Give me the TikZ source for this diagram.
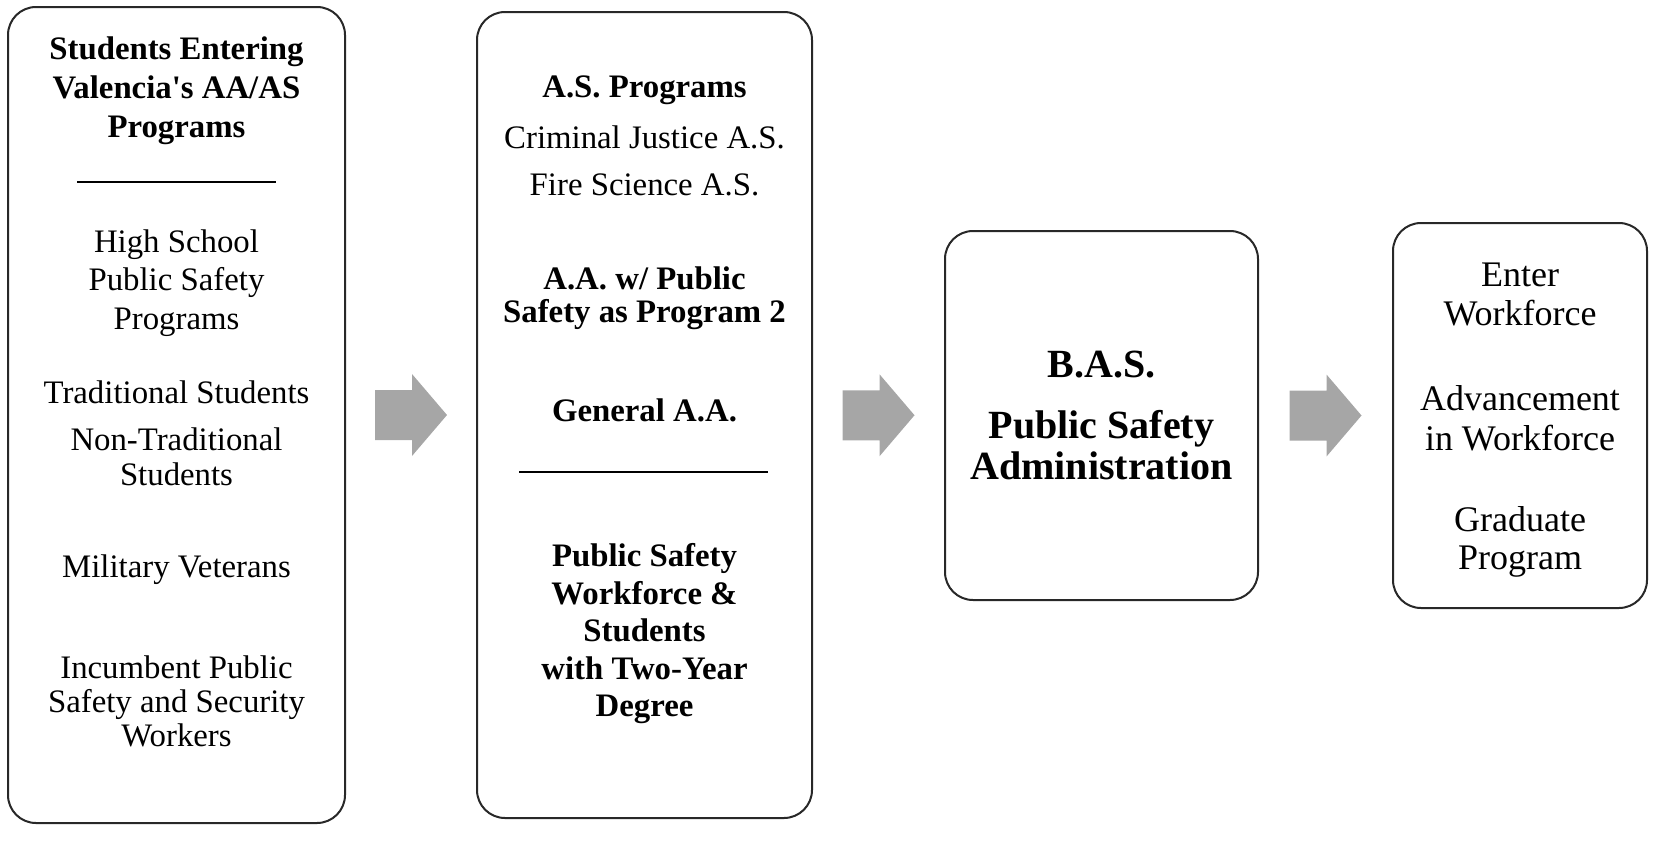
\documentclass[tikz,border=0pt]{standalone}
\usepackage{fontspec}
\setmainfont{Liberation Serif}
\usetikzlibrary{calc, positioning}
\definecolor{BoxLine}{RGB}{40, 40, 40}
\definecolor{FlowGray}{RGB}{166, 166, 166}

\begin{document}
\begin{tikzpicture}[x=0.5pt, y=-0.5pt,
    box/.style={draw=BoxLine, line width=1pt, rounded corners=14pt, inner sep=0pt},
    txt/.style={align=center, inner sep=0pt, font=\fontsize{16.4}{19}\selectfont},
    txtb/.style={txt, font=\fontsize{16.4}{19}\selectfont\bfseries},
    flowarrow/.style={fill=FlowGray}]
        \useasboundingbox (0,0) rectangle (1676,857);

        % --- BOXES ---
        \node[box, minimum width=168.5pt, minimum height=408pt] (entry) at (176.5, 415) {};
        \node[box, minimum width=167.5pt, minimum height=403pt] (prog) at (644.5, 415) {};
        \node[box, minimum width=156.5pt, minimum height=184.5pt] (bas) at (1101.5, 415.5) {};
        \node[box, minimum width=127pt, minimum height=192.5pt] (career) at (1520, 415.5) {};

        % --- ENTRY BOX ---
        \node[txtb, font=\fontsize{16.4}{19.5}\selectfont\bfseries] (entryhead) at (176.5, 91) {Students Entering\\Valencia\textquotesingle s AA/AS\\Programs};
        \draw[line width=0.8pt] (77, 182) -- (276, 182);
        \node[txt, font=\fontsize{16.4}{19.2}\selectfont] (hsprog) at (176.5, 283) {High School\\Public Safety\\Programs};
        \node[txt] (tradstud) at (176.5, 392) {Traditional Students};
        \node[txt, font=\fontsize{16.4}{17.5}\selectfont] (nontrad) at (176.5, 457) {Non-Traditional\\Students};
        \node[txt] (military) at (176.5, 570) {Military Veterans};
        \node[txt, font=\fontsize{16.4}{17}\selectfont] (incumbent) at (176.5, 701) {Incumbent Public\\Safety and Security\\Workers};

        % --- PROGRAM BOX ---
        \node[txtb] (asprog) at (644.5, 90) {A.S. Programs};
        \node[txt] (cjas) at (644.5, 137) {Criminal Justice A.S.};
        \node[txt] (fsas) at (644.5, 185) {Fire Science A.S.};
        \node[txtb, font=\fontsize{16.4}{16.5}\selectfont\bfseries] (aaps) at (644.5, 298) {A.A. w/ Public\\Safety as Program 2};
        \node[txtb] (genaa) at (644.5, 410) {General A.A.};
        \draw[line width=0.8pt] (519, 472) -- (768, 472);
        \node[txtb, font=\fontsize{16.4}{18.75}\selectfont\bfseries] (workforce) at (644.5, 634) {Public Safety\\Workforce \&\\Students\\with Two-Year\\Degree};

        % --- B.A.S. BOX ---
        \node[txtb, font=\fontsize{20}{24}\selectfont\bfseries] (bastitle) at (1101.5, 365) {B.A.S.};
        \node[txtb, font=\fontsize{20}{20.5}\selectfont\bfseries] (psa) at (1101.5, 445) {Public Safety\\Administration};

        % --- CAREER BOX ---
        \node[txt, font=\fontsize{18}{19.5}\selectfont] (enter) at (1520, 294) {Enter\\Workforce};
        \node[txt, font=\fontsize{18}{20}\selectfont] (advance) at (1520, 418) {Advancement\\in Workforce};
        \node[txt, font=\fontsize{18}{19}\selectfont] (grad) at (1520, 542) {Graduate\\Program};

        % --- FLOW ARROWS ---
        \coordinate (a1) at ($(entry.east)!0.5!(prog.west)$);
        \coordinate (a2) at ($(prog.east)!0.5!(bas.west)$);
        \coordinate (a3) at ($(bas.east)!0.5!(career.west)$);
        \fill[flowarrow, shift={(a1)}] (-36,-25) -- (1,-25) -- (1,-41) -- (36,0) -- (1,41) -- (1,25) -- (-36,25) -- cycle;
        \fill[flowarrow, shift={(a2)}] (-36,-25) -- (1,-25) -- (1,-41) -- (36,0) -- (1,41) -- (1,25) -- (-36,25) -- cycle;
        \fill[flowarrow, shift={(a3)}] (-36,-25) -- (1,-25) -- (1,-41) -- (36,0) -- (1,41) -- (1,25) -- (-36,25) -- cycle;

\end{tikzpicture}
\end{document}
